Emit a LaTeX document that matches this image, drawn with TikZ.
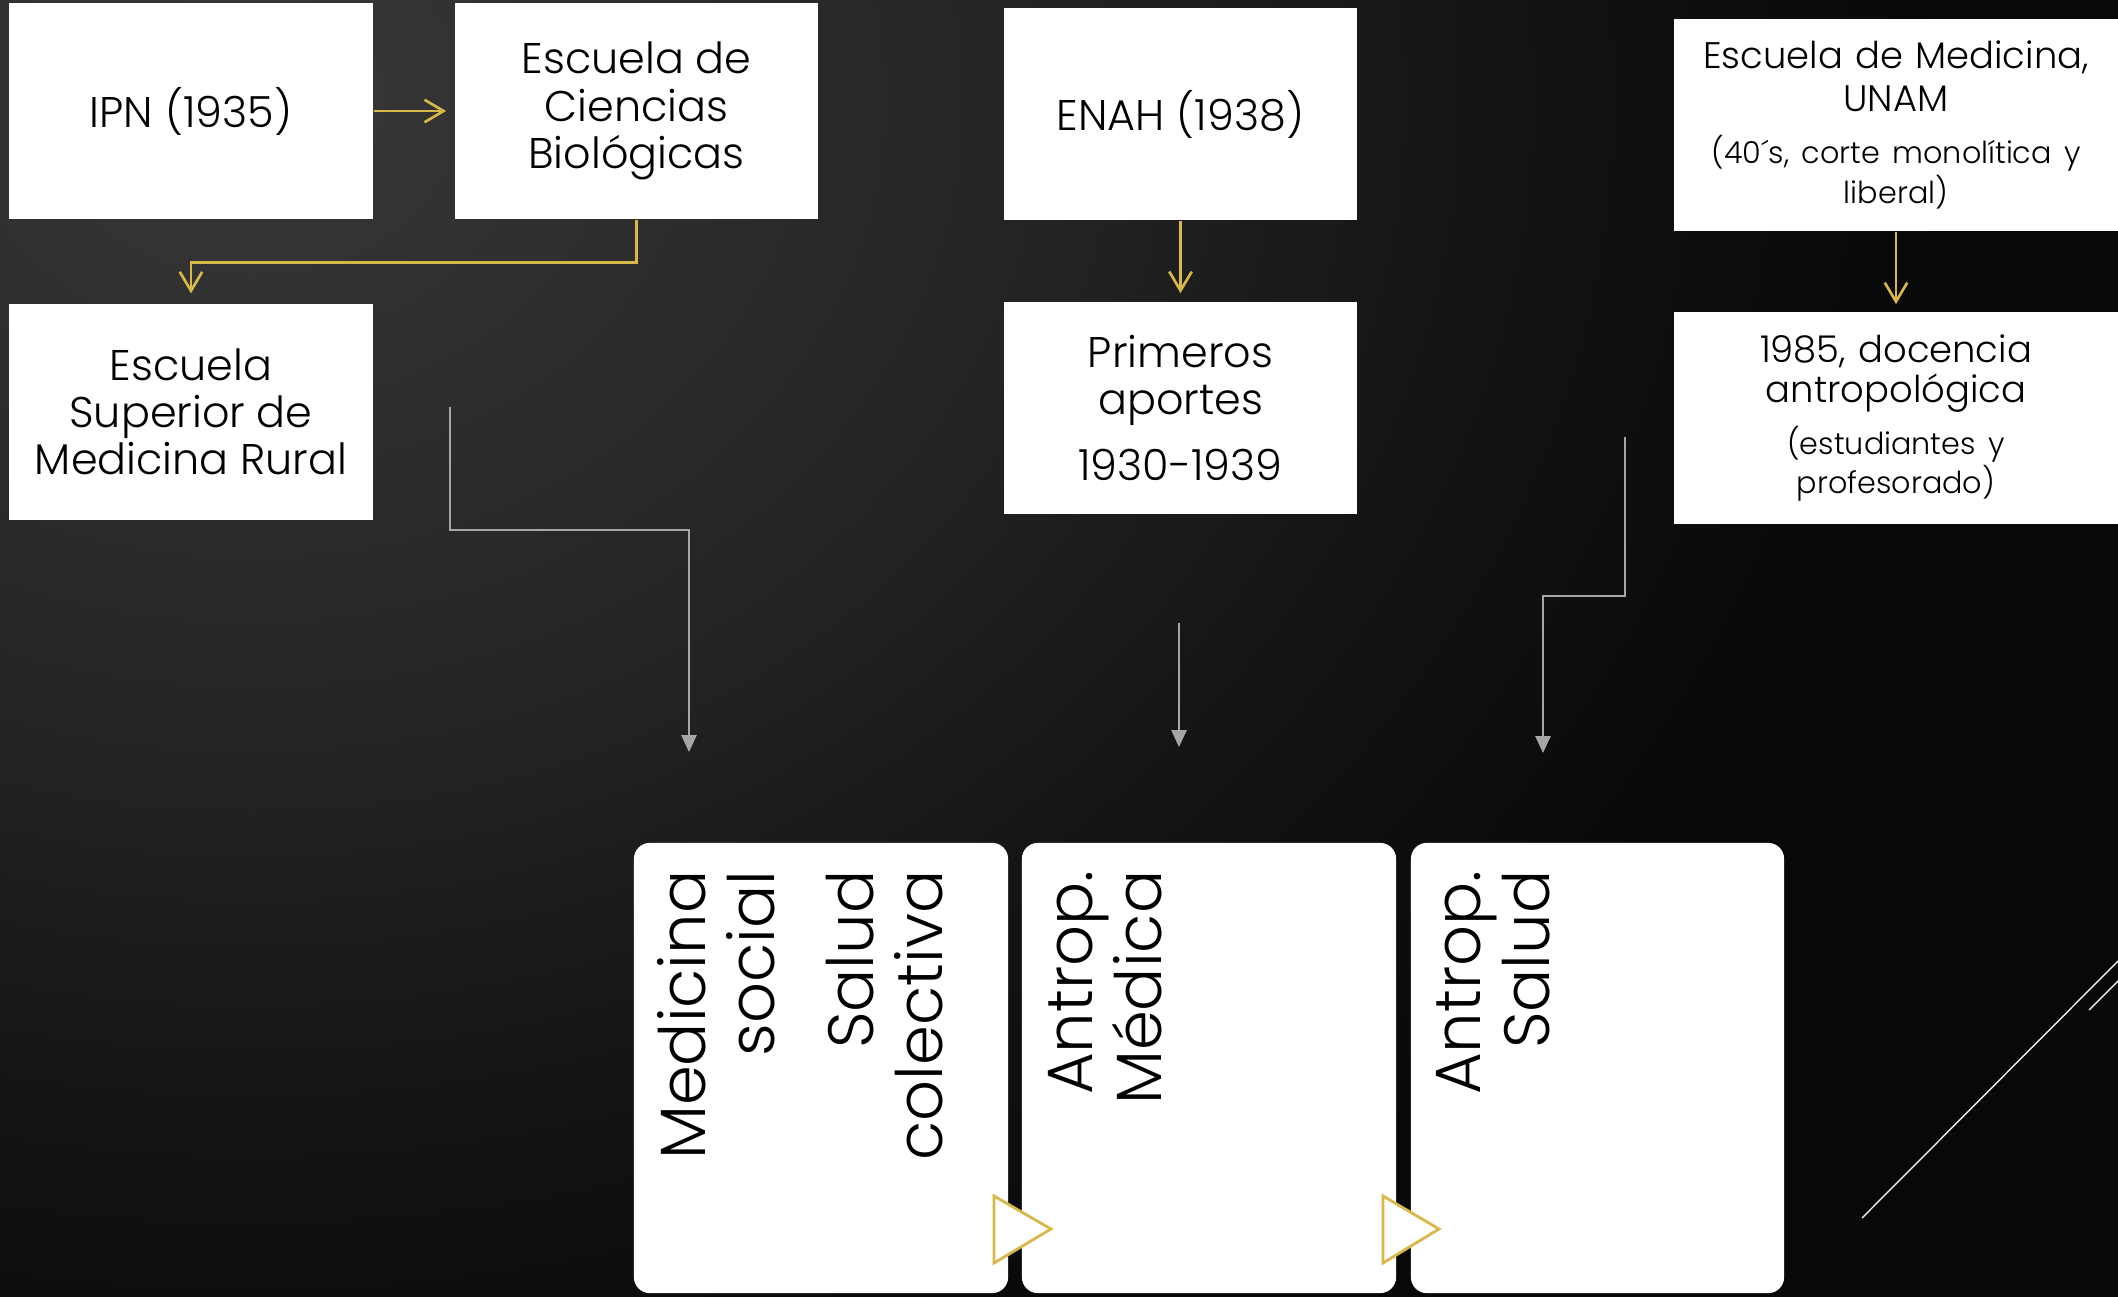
\documentclass[tikz,border=0pt]{standalone}
\usepackage{fontspec}
\setmainfont{Poppins Light}
\usetikzlibrary{arrows.meta}
\lineskiplimit=-50pt

\definecolor{oro}{HTML}{D9B84A}
\definecolor{gris}{HTML}{A6A6A6}
\definecolor{fondoA}{HTML}{383838}
\definecolor{fondoB}{HTML}{222222}
\definecolor{fondoC}{HTML}{141414}
\definecolor{fondoD}{HTML}{080808}
\pgfdeclareradialshading{fondo}{\pgfpoint{0bp}{0bp}}{color(0bp)=(fondoA); color(12.5bp)=(fondoB); color(18bp)=(fondoC); color(25bp)=(fondoD); color(50bp)=(fondoD)}

\begin{document}
\begin{tikzpicture}[x=0.01cm, y=-0.01cm,
    caja/.style={fill=white, text=black, inner sep=0pt, align=center,
        font=\fontsize{12.2}{13.4}\selectfont},
    cajachica/.style={caja, text width=4.2cm,
        font=\fontsize{10.5}{12}\selectfont},
    tarjeta/.style={fill=white, rounded corners=0.16cm, inner sep=0pt,
        minimum width=3.74cm, minimum height=4.5cm},
    vertical/.style={rotate=90, anchor=north east, inner sep=0pt, align=right,
        text=black, font=\fontsize{18.2}{19.6}\selectfont},
    flecha/.style={oro, line width=0.75pt, -{Straight Barb[length=5.4pt, width=6.4pt]}},
    flechagris/.style={gris, line width=0.6pt, -{Triangle[length=4.8pt, width=4.3pt]}},
    punta/.style={fill=white, draw=oro, line width=0.8pt}]

    % Fondo
    \useasboundingbox (0,0) rectangle (2118,1297);
    \clip (0,0) rectangle (2118,1297);
    \fill[fondoD] (0,0) rectangle (2118,1297);
    \shade[shading=fondo] (250,100) ellipse [x radius=1700, y radius=1400];

    % Cajas de arriba
    \node[caja, minimum width=3.635cm, minimum height=2.16cm] (ipn) at (191,111) {IPN (1935)};
    \node[caja, minimum width=3.63cm, minimum height=2.16cm] (ecb) at (636.5,111) {Escuela de\\Ciencias\\Biológicas};
    \node[caja, minimum width=3.635cm, minimum height=2.16cm] (esmr) at (191,412) {Escuela\\Superior de\\Medicina Rural};
    \node[caja, minimum width=3.53cm, minimum height=2.12cm] (enah) at (1180.5,114) {ENAH (1938)};
    \node[caja, minimum width=3.53cm, minimum height=2.12cm] (aportes) at (1180.5,408) {Primeros\\aportes\\[5.4pt]1930-1939};
    \node[cajachica, minimum width=4.44cm, minimum height=2.12cm] (unam) at (1896,125)
        {Escuela de Medicina,\\UNAM\par\vspace{5pt}\fontsize{8.6}{10}\selectfont(40´s, corte monolítica y\\liberal)\par};
    \node[cajachica, minimum width=4.44cm, minimum height=2.12cm, font=\fontsize{10.5}{11.4}\selectfont] (docencia) at (1896,418)
        {1985, docencia\\antropológica\par\vspace{3pt}\fontsize{8.6}{10.2}\selectfont(estudiantes y\\profesorado)\par};

    % Flechas doradas
    \draw[flecha, shorten >=2.3pt] (ipn) -- (ecb);
    \draw[flecha, shorten >=2.8pt] (ecb.south) -- ++(0,43) -| (esmr.north);
    \draw[flecha, shorten >=2.3pt] (enah) -- (aportes);
    \draw[flecha, shorten >=2pt] (unam) -- (docencia);

    % Tarjetas de abajo
    \node[tarjeta] (social) at (821,1068) {};
    \node[tarjeta] (medica) at (1209,1068) {};
    \node[tarjeta, minimum width=3.73cm] (salud) at (1597.5,1068) {};
    \node[vertical] (socialtxt) at (657,870) {Medicina\\social\\[8.5pt]Salud\\colectiva};
    \node[vertical] (medicatxt) at (1048,870) {Antrop.\\Médica};
    \node[vertical] (saludtxt) at (1436,870) {Antrop.\\Salud};
    \draw[punta] (994,1196) -- (1051,1229) -- (994,1263) -- cycle;
    \draw[punta] (1383,1196) -- (1439,1229) -- (1383,1263) -- cycle;

    % Flechas grises
    \coordinate (g1) at (450,407);
    \coordinate (g1fin) at (689,752);
    \coordinate (g2) at (1179,623);
    \coordinate (g2fin) at (1179,747);
    \coordinate (g3) at (1625,437);
    \coordinate (g3fin) at (1543,753);
    \draw[flechagris] (g1) -- ++(0,123) -| (g1fin);
    \draw[flechagris] (g2) -- (g2fin);
    \draw[flechagris] (g3) -- ++(0,159) -| (g3fin);

    % Lineas diagonales
    \draw[white!85!gray, line width=0.4pt] (1862,1218) -- (2130,949);
    \draw[white!85!gray, line width=0.4pt] (2089,1010) -- (2130,969);
\end{tikzpicture}
\end{document}
